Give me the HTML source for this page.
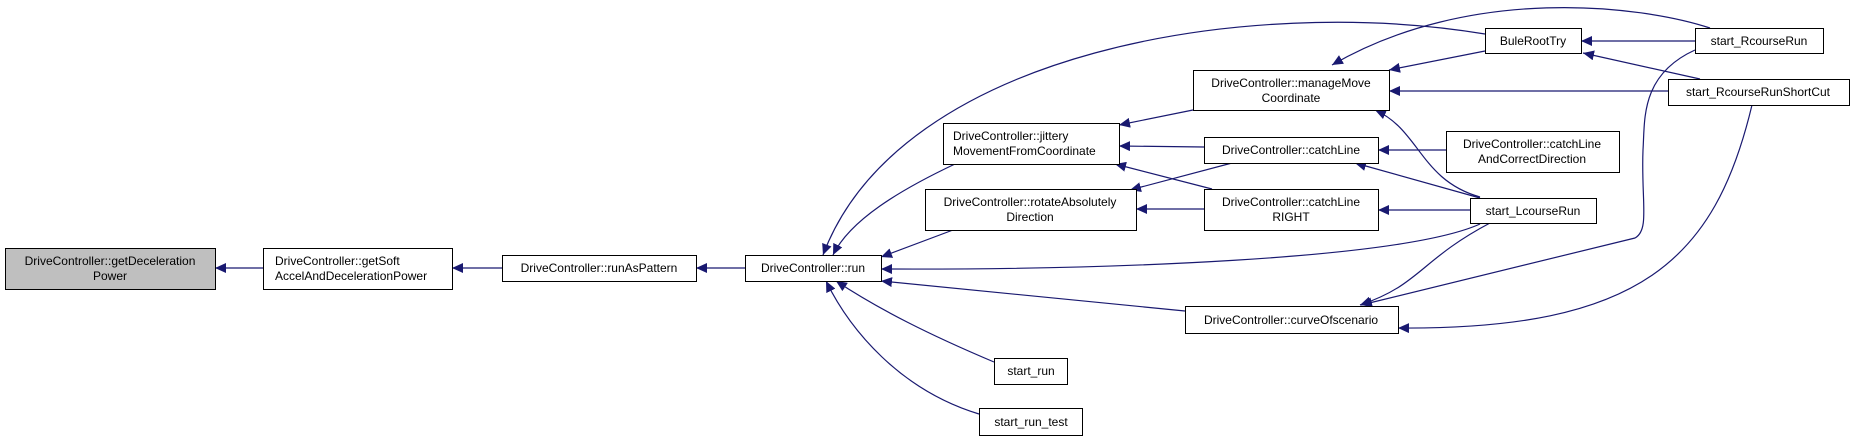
<!DOCTYPE html>
<html><head><meta charset="utf-8"><style>
body{margin:0;background:#fff;}
svg{display:block;}
text{font-family:"Liberation Sans",sans-serif;font-size:12px;fill:#000;}
</style></head><body>
<svg width="1853" height="437" viewBox="0 0 1853 437" xmlns="http://www.w3.org/2000/svg">
<defs>
<marker id="a" markerWidth="12" markerHeight="10" refX="11" refY="5" orient="auto" markerUnits="userSpaceOnUse">
<path d="M0,0 L11,5 L0,10 Z" fill="#191970"/>
</marker>
</defs>
<g fill="none" stroke="#191970" stroke-width="1.2" marker-end="url(#a)">
<path d="M263,268 L215,268"/>
<path d="M502,268 L452,268"/>
<path d="M745,268 L696,268"/>
<path d="M1485,34 C1250,-5 900,50 823,255"/>
<path d="M955,164 C900,190 850,220 833,255"/>
<path d="M953,230 L881,257"/>
<path d="M1480,224 C1400,260 1100,270 881,269"/>
<path d="M1185,311 L881,281"/>
<path d="M994,362 C930,335 880,310 836,281"/>
<path d="M979,414 C900,390 850,330 826,281"/>
<path d="M1193,110 L1119,125"/>
<path d="M1204,147 L1119,146"/>
<path d="M1212,189 L1115,164"/>
<path d="M1232,163 L1130,190"/>
<path d="M1204,209 L1136,209"/>
<path d="M1485,51 L1389,70"/>
<path d="M1710,28 C1640,5 1470,-15 1332,65"/>
<path d="M1668,91 L1389,91"/>
<path d="M1480,197 C1420,180 1420,130 1375,110"/>
<path d="M1446,150 L1378,150"/>
<path d="M1480,198 L1355,163"/>
<path d="M1470,210 L1378,210"/>
<path d="M1695,41 L1581,41"/>
<path d="M1700,79 L1583,53"/>
<path d="M1490,223 C1420,260 1420,285 1360,305"/>
<path d="M1695,50 C1640,75 1645,120 1643,150 C1641,200 1650,230 1635,238 L1361,305"/>
<path d="M1752,105 C1715,260 1640,330 1398,328"/>
</g>
<g stroke="#000" stroke-width="1">
<rect x="5.5" y="248.5" width="210" height="41" fill="#bfbfbf"/>
<rect x="263.5" y="248.5" width="189" height="41" fill="#fff"/>
<rect x="502.5" y="255.5" width="194" height="26" fill="#fff"/>
<rect x="745.5" y="255.5" width="136" height="26" fill="#fff"/>
<rect x="1485.5" y="28.5" width="96" height="25" fill="#fff"/>
<rect x="1695.5" y="28.5" width="128" height="25" fill="#fff"/>
<rect x="1193.5" y="70.5" width="196" height="40" fill="#fff"/>
<rect x="1668.5" y="79.5" width="181" height="26" fill="#fff"/>
<rect x="943.5" y="123.5" width="176" height="41" fill="#fff"/>
<rect x="1204.5" y="137.5" width="174" height="26" fill="#fff"/>
<rect x="1446.5" y="131.5" width="173" height="41" fill="#fff"/>
<rect x="925.5" y="189.5" width="211" height="41" fill="#fff"/>
<rect x="1204.5" y="189.5" width="174" height="41" fill="#fff"/>
<rect x="1470.5" y="198.5" width="126" height="25" fill="#fff"/>
<rect x="1185.5" y="306.5" width="213" height="27" fill="#fff"/>
<rect x="994.5" y="358.5" width="73" height="26" fill="#fff"/>
<rect x="979.5" y="408.5" width="103" height="27" fill="#fff"/>
</g>
<g text-anchor="middle">
<text x="110" y="265">DriveController::getDeceleration</text>
<text x="110" y="280">Power</text>
<text x="275" y="265" text-anchor="start">DriveController::getSoft</text>
<text x="275" y="280" text-anchor="start">AccelAndDecelerationPower</text>
<text x="599" y="272">DriveController::runAsPattern</text>
<text x="813" y="272">DriveController::run</text>
<text x="1533" y="45">BuleRootTry</text>
<text x="1759" y="45">start_RcourseRun</text>
<text x="1291" y="87">DriveController::manageMove</text>
<text x="1291" y="102">Coordinate</text>
<text x="1758" y="96">start_RcourseRunShortCut</text>
<text x="953" y="140" text-anchor="start">DriveController::jittery</text>
<text x="953" y="155" text-anchor="start">MovementFromCoordinate</text>
<text x="1291" y="154">DriveController::catchLine</text>
<text x="1532" y="148">DriveController::catchLine</text>
<text x="1532" y="163">AndCorrectDirection</text>
<text x="1030" y="206">DriveController::rotateAbsolutely</text>
<text x="1030" y="221">Direction</text>
<text x="1291" y="206">DriveController::catchLine</text>
<text x="1291" y="221">RIGHT</text>
<text x="1533" y="215">start_LcourseRun</text>
<text x="1291" y="324">DriveController::curveOfscenario</text>
<text x="1031" y="375">start_run</text>
<text x="1031" y="426">start_run_test</text>
</g>
</svg>
</body></html>
